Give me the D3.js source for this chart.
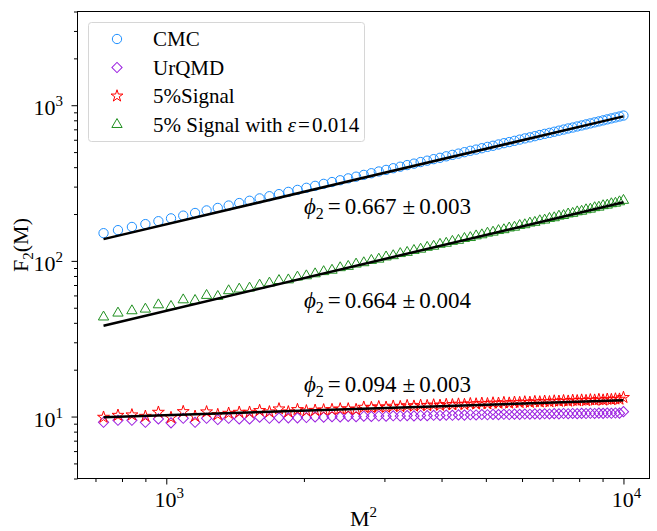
<!DOCTYPE html>
<html>
<head>
<meta charset="utf-8">
<script src="https://cdn.jsdelivr.net/npm/d3@7"></script>
<style>
body { margin: 0; background: #fff; }
svg { display: block; font-family: "Liberation Serif", "Times New Roman", serif; }
</style>
</head>
<body>
<svg id="chart" width="657" height="531"></svg>
<script>
// multiplicity bin M (x axis shows M^2)
var mValues = [27, 28, 29, 30, 31, 32, 33, 34, 35, 36,
    37, 38, 39, 40, 41, 42, 43, 44, 45, 46,
    47, 48, 49, 50, 51, 52, 53, 54, 55, 56,
    57, 58, 59, 60, 61, 62, 63, 64, 65, 66,
    67, 68, 69, 70, 71, 72, 73, 74, 75, 76,
    77, 78, 79, 80, 81, 82, 83, 84, 85, 86,
    87, 88, 89, 90, 91, 92, 93, 94, 95, 96,
    97, 98, 99, 100];

var cmcValues = [150.7, 157.6, 165.2, 172.3, 179.9, 187.6, 195.3, 203.1, 211.0, 218.9,
    226.8, 235.3, 243.4, 252.1, 260.3, 268.5, 277.5, 285.8, 294.8, 303.4,
    312.5, 321.0, 329.6, 338.9, 347.5, 356.9, 365.7, 375.3, 384.1, 393.8,
    402.7, 412.5, 421.5, 431.4, 440.4, 450.4, 459.4, 469.6, 479.8, 488.9,
    499.3, 509.6, 518.8, 529.3, 539.9, 549.0, 559.6, 570.3, 579.8, 590.5,
    601.3, 612.2, 621.6, 632.6, 643.6, 654.6, 664.2, 675.4, 686.4, 697.7,
    708.9, 718.8, 730.1, 741.3, 752.8, 764.3, 776.1, 787.4, 799.1, 811.0,
    822.7, 834.3, 846.1, 858.1];

var urqmdValues = [9.19, 9.47, 9.47, 9.19, 9.66, 9.11, 9.75, 9.19, 9.75, 9.57,
    9.75, 9.66, 9.66, 9.90, 9.75, 9.81, 9.81, 9.81, 9.86, 9.95,
    9.90, 9.98, 9.94, 10.02, 9.98, 10.05, 10.02, 10.08, 10.05, 10.11,
    10.08, 10.14, 10.10, 10.16, 10.13, 10.19, 10.16, 10.22, 10.19, 10.25,
    10.22, 10.27, 10.24, 10.30, 10.27, 10.32, 10.29, 10.34, 10.31, 10.36,
    10.33, 10.38, 10.35, 10.40, 10.37, 10.42, 10.39, 10.44, 10.41, 10.46,
    10.43, 10.47, 10.44, 10.49, 10.46, 10.50, 10.47, 10.52, 10.49, 10.53,
    10.50, 10.54, 10.52, 10.75];

var signalValues = [9.90, 10.19, 10.25, 10.04, 10.66, 9.85, 10.76, 10.04, 10.72, 10.30,
    10.50, 10.66, 10.66, 10.93, 10.72, 11.20, 10.72, 11.09, 10.88, 10.97,
    11.04, 11.09, 11.20, 11.20, 11.09, 11.48, 11.42, 11.56, 11.47, 11.65,
    11.58, 11.75, 11.66, 11.80, 11.75, 11.87, 11.80, 11.95, 11.90, 12.02,
    11.94, 12.09, 12.04, 12.16, 12.08, 12.22, 12.17, 12.29, 12.20, 12.35,
    12.29, 12.41, 12.33, 12.47, 12.41, 12.53, 12.44, 12.58, 12.53, 12.64,
    12.55, 12.70, 12.63, 12.75, 12.66, 12.80, 12.74, 12.86, 12.76, 12.91,
    12.85, 12.96, 12.93, 13.26];

var signalEpsValues = [43.6, 46.2, 47.8, 49.0, 52.2, 51.0, 56.2, 55.7, 60.0, 59.1,
    64.3, 65.9, 66.9, 69.9, 72.0, 74.8, 75.5, 78.7, 80.2, 82.6,
    85.3, 87.1, 90.4, 92.2, 95.4, 97.3, 100.7, 102.6, 106.0, 108.0,
    111.4, 113.4, 116.7, 118.9, 122.2, 124.2, 127.8, 129.8, 133.5, 135.5,
    139.3, 141.2, 144.8, 147.1, 150.7, 153.0, 156.6, 158.6, 162.7, 164.6,
    168.8, 170.7, 174.9, 176.8, 181.1, 182.9, 187.4, 189.3, 193.8, 195.6,
    200.2, 202.0, 206.6, 208.4, 213.0, 214.9, 219.7, 221.4, 226.3, 228.1,
    232.9, 234.7, 239.7, 244.8];

// fitted power laws, end points
var fitX = [729, 10000];
var cmcFit = [138, 848];
var signalEpsFit = [38.3, 238];
var signalFit = [9.9, 12.72];

var phiLabels = ["0.667", "0.664", "0.094"];
var phiErrors = ["0.003", "0.004", "0.003"];
var phiLabelX = [2000, 2000, 2000];
var phiLabelY = [200, 50, 14.3];

var xMajorTicks = [1000, 10000];
var xMinorTicks = [700, 800, 900, 2000, 3000, 4000, 5000, 6000, 7000, 8000, 9000];
var yMajorTicks = [10, 100, 1000];
var yMinorTicks = [4, 5, 6, 7, 8, 9, 20, 30, 40, 50, 60, 70, 80, 90,
    200, 300, 400, 500, 600, 700, 800, 900, 2000, 3000, 4000];

var legendNames = ["CMC", "UrQMD", "5%Signal", "5% Signal with "];

var svg = d3.select("#chart");
var padL = 77.5, padR = 649.5, padT = 11.5, padB = 478.5;

var x = d3.scaleLog().domain([639.4, 11401]).range([padL, padR]);
var y = d3.scaleLog().domain([4, 4000]).range([padB, padT]);

// axes
svg.append("g").attr("transform", "translate(0," + padB + ")")
    .call(d3.axisBottom(x).tickValues(xMajorTicks).tickSize(6).tickFormat(""));
svg.append("g").attr("transform", "translate(0," + padB + ")")
    .call(d3.axisBottom(x).tickValues(xMinorTicks).tickSize(3.5).tickFormat(""));
svg.append("g").attr("transform", "translate(" + padL + ",0)")
    .call(d3.axisLeft(y).tickValues(yMajorTicks).tickSize(6).tickFormat(""));
svg.append("g").attr("transform", "translate(" + padL + ",0)")
    .call(d3.axisLeft(y).tickValues(yMinorTicks).tickSize(3.5).tickFormat(""));
svg.selectAll(".domain").remove();
svg.selectAll(".tick line").attr("stroke", "#000").attr("stroke-width", 1);

function powLabel(sel, v) {
    sel.append("tspan").text("10");
    sel.append("tspan").attr("dy", -9).attr("font-size", 15).text(Math.round(Math.log10(v)));
}

xMajorTicks.forEach(function (v) {
    var t = svg.append("text").attr("x", x(v) + 3).attr("y", 507)
        .attr("text-anchor", "middle").attr("font-size", 22);
    powLabel(t, v);
});
yMajorTicks.forEach(function (v) {
    var t = svg.append("text").attr("x", 63).attr("y", y(v) + 10)
        .attr("text-anchor", "end").attr("font-size", 22);
    powLabel(t, v);
});

// axis titles
var xl = svg.append("text").attr("x", padL + (padR - padL) / 2).attr("y", 526)
    .attr("text-anchor", "middle").attr("font-size", 22);
xl.append("tspan").text("M");
xl.append("tspan").attr("dy", -9).attr("font-size", 15).text("2");

var yl = svg.append("text")
    .attr("transform", "translate(28," + (padT + (padB - padT) / 2) + ") rotate(-90)")
    .attr("text-anchor", "middle").attr("font-size", 22);
yl.append("tspan").text("F");
yl.append("tspan").attr("dy", 5).attr("font-size", 15).text("2");
yl.append("tspan").attr("dy", -5).text("(M)");

// data table
var table = mValues.map(function (m, i) {
    return { m2: m * m, cmc: cmcValues[i], urqmd: urqmdValues[i], sig: signalValues[i], eps: signalEpsValues[i] };
});

var series = [
    { key: "cmc", color: "#1e90ff", symbol: d3.symbolCircle, size: 68, rot: 0 },
    { key: "urqmd", color: "#9b1fe0", symbol: d3.symbolSquare, size: 52, rot: 45 },
    { key: "sig", color: "#ff0000", symbol: d3.symbolStar, size: 44, rot: 0 },
    { key: "eps", color: "#1f8f1f", symbol: d3.symbolTriangle, size: 46, rot: 0 }
];

var plot = svg.append("g");

series.forEach(function (s) {
    plot.selectAll(".pt-" + s.key)
        .data(table)
        .enter()
        .append("path")
        .attr("class", "pt-" + s.key)
        .attr("d", d3.symbol().type(s.symbol).size(s.size))
        .attr("transform", d => "translate(" + x(d.m2) + "," + y(d[s.key]) + ") rotate(" + s.rot + ")")
        .attr("fill", "none")
        .attr("stroke", s.color)
        .attr("stroke-width", 1);
});

// fit lines
[cmcFit, signalEpsFit, signalFit].forEach(function (f) {
    plot.append("line")
        .attr("x1", x(fitX[0])).attr("y1", y(f[0]))
        .attr("x2", x(fitX[1])).attr("y2", y(f[1]))
        .attr("stroke", "#000").attr("stroke-width", 2.5);
});

// phi labels
phiLabels.forEach(function (p, i) {
    var t = svg.append("text").attr("x", x(phiLabelX[i])).attr("y", y(phiLabelY[i]))
        .attr("font-size", 23);
    t.append("tspan").attr("font-style", "italic").text("\u03D5");
    t.append("tspan").attr("dy", 5).attr("font-size", 16).text("2");
    t.append("tspan").attr("dy", -5).attr("dx", 4).text("=");
    t.append("tspan").attr("dx", 4).text(p);
    t.append("tspan").attr("dx", 6).text("\u00B1");
    t.append("tspan").attr("dx", 4).text(phiErrors[i]);
});

// frame
svg.append("rect").attr("x", padL).attr("y", padT)
    .attr("width", padR - padL).attr("height", padB - padT)
    .attr("fill", "none").attr("stroke", "#000").attr("stroke-width", 1);

// legend
var lg = svg.append("g");
lg.append("rect").attr("x", 88.5).attr("y", 22.5).attr("width", 276).attr("height", 119)
    .attr("rx", 3).attr("fill", "#fff").attr("fill-opacity", 0.8)
    .attr("stroke", "#d6d6d6").attr("stroke-width", 1);
series.forEach(function (s, i) {
    var cy = 39 + i * 28.5;
    lg.append("path")
        .attr("d", d3.symbol().type(s.symbol).size(s.size))
        .attr("transform", "translate(117," + cy + ") rotate(" + s.rot + ")")
        .attr("fill", "none").attr("stroke", s.color).attr("stroke-width", 1);
    var t = lg.append("text").attr("x", 153).attr("y", cy + 7).attr("font-size", 21)
        .text(legendNames[i]);
    if (i === 3) {
        t.append("tspan").attr("font-style", "italic").text("\u03B5");
        t.append("tspan").attr("dx", 2).text("=");
        t.append("tspan").attr("dx", 2).text("0.014");
    }
});
</script>
</body>
</html>
